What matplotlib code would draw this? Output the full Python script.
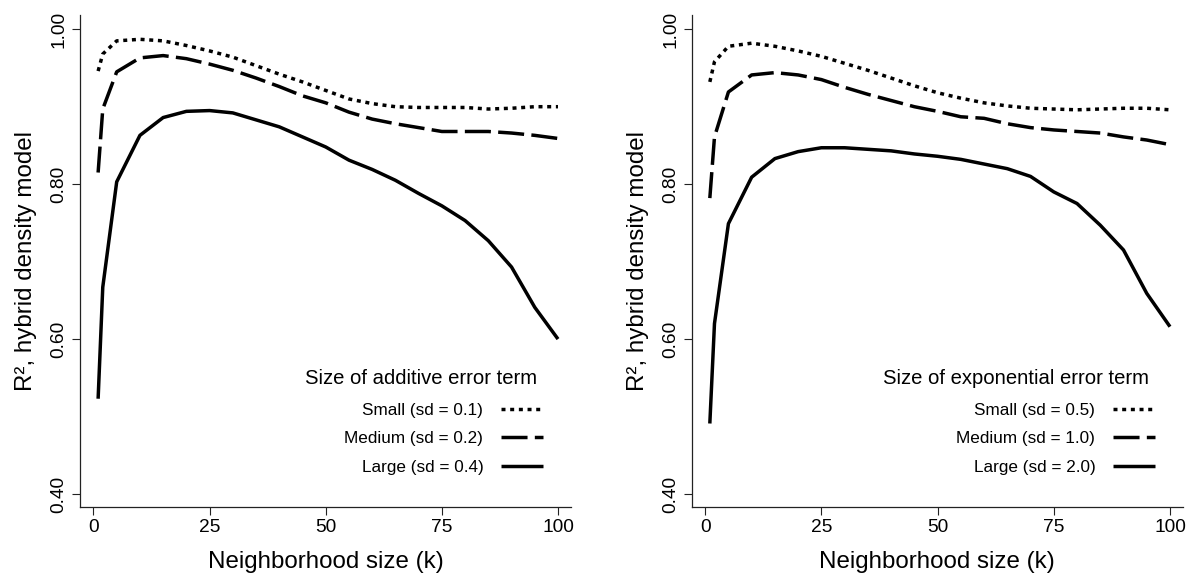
import matplotlib
matplotlib.use("Agg")
import matplotlib.pyplot as plt
from matplotlib.lines import Line2D

plt.rcParams['font.family'] = ['Liberation Sans', 'DejaVu Sans']

# ---- data ----
k = [1, 2, 5, 10, 15, 20, 25, 30, 35, 40, 45, 50, 55, 60, 65, 70, 75, 80, 85, 90, 95, 100]

add_small = [0.946, 0.968, 0.985, 0.987, 0.985, 0.979, 0.972, 0.964, 0.953, 0.942, 0.932,
             0.921, 0.910, 0.904, 0.900, 0.899, 0.899, 0.899, 0.897, 0.898, 0.900, 0.900]
add_medium = [0.815, 0.897, 0.945, 0.963, 0.966, 0.962, 0.955, 0.947, 0.937, 0.926, 0.914,
              0.905, 0.893, 0.884, 0.878, 0.873, 0.868, 0.868, 0.868, 0.866, 0.863, 0.859]
add_large = [0.523, 0.667, 0.803, 0.863, 0.886, 0.894, 0.895, 0.892, 0.883, 0.874, 0.861,
             0.848, 0.831, 0.819, 0.805, 0.788, 0.772, 0.753, 0.727, 0.693, 0.641, 0.600]

exp_small = [0.932, 0.958, 0.978, 0.982, 0.978, 0.972, 0.965, 0.956, 0.947, 0.937, 0.927,
             0.918, 0.911, 0.905, 0.901, 0.898, 0.897, 0.896, 0.897, 0.898, 0.898, 0.896]
exp_medium = [0.782, 0.861, 0.919, 0.941, 0.944, 0.941, 0.935, 0.925, 0.916, 0.908, 0.900,
              0.894, 0.887, 0.885, 0.878, 0.873, 0.870, 0.868, 0.866, 0.861, 0.857, 0.851]
exp_large = [0.491, 0.620, 0.749, 0.809, 0.833, 0.842, 0.847, 0.847, 0.845, 0.843, 0.839,
             0.836, 0.832, 0.826, 0.820, 0.810, 0.790, 0.775, 0.747, 0.715, 0.659, 0.616]

x_ticks = [0, 25, 50, 75, 100]
y_ticks = [0.40, 0.60, 0.80, 1.00]
y_ticklabels = ["0.40", "0.60", "0.80", "1.00"]

left_title = "Size of additive error term"
left_labels = ["Small (sd = 0.1)", "Medium (sd = 0.2)", "Large (sd = 0.4)"]
right_title = "Size of exponential error term"
right_labels = ["Small (sd = 0.5)", "Medium (sd = 1.0)", "Large (sd = 2.0)"]

xlabel = "Neighborhood size (k)"
ylabel = "R\u00b2, hybrid density model"

# ---- styles ----
LW = 2.5
styles = [
    dict(color='black', lw=LW, linestyle=(0, (1.15, 1.35)), dash_capstyle='butt'),
    dict(color='black', lw=LW, linestyle=(0, (7.5, 2.1)), dash_capstyle='butt'),
    dict(color='black', lw=LW, linestyle='-', solid_capstyle='butt'),
]

fig = plt.figure(figsize=(11.93, 5.75), dpi=100)
axL = fig.add_axes([0.06706, 0.11878, 0.41157, 0.85461])
axR = fig.add_axes([0.57980, 0.11878, 0.41182, 0.85461])


def draw(ax, series, labels, title, title_x):
    for ys, st in zip(series, styles):
        ax.plot(k, ys, solid_joinstyle='round', dash_joinstyle='round', **st)
    ax.set_xlim(-2.9, 102.8)
    ax.set_ylim(0.3836, 1.018)
    ax.set_xticks(x_ticks)
    ax.set_xticklabels([str(t) for t in x_ticks])
    ax.set_yticks(y_ticks)
    ax.set_yticklabels(y_ticklabels)
    for t in ax.get_yticklabels():
        t.set_rotation(90)
        t.set_verticalalignment('center')
    ax.tick_params(axis='both', length=5.8, width=0.8, labelsize=13.8, color='#222222')
    ax.tick_params(axis='x', pad=3.4)
    ax.tick_params(axis='y', pad=3.2)
    for s in ['top', 'right']:
        ax.spines[s].set_visible(False)
    for s in ['left', 'bottom']:
        ax.spines[s].set_linewidth(0.9)
        ax.spines[s].set_color('#222222')
    ax.set_xlabel(xlabel, fontsize=17.4)
    ax.set_ylabel(ylabel, fontsize=17.4)
    ax.xaxis.set_label_coords(0.5, -0.0895)
    ax.yaxis.set_label_coords(-0.0876, 0.5)

    handles = [Line2D([], [], **st) for st in styles]
    ax.legend(handles, labels, loc='upper right', bbox_to_anchor=(0.9436, 0.212),
              frameon=False, markerfirst=False, handlelength=2.49, handletextpad=1.02,
              labelspacing=0.80, borderpad=0, borderaxespad=0, fontsize=12.3)
    ax.text(title_x, 0.261, title, transform=ax.transAxes, ha='center', va='center',
            fontsize=14.6)


draw(axL, [add_small, add_medium, add_large], left_labels, left_title, 0.6945)
draw(axR, [exp_small, exp_medium, exp_large], right_labels, right_title, 0.661)

fig.savefig("out.png", dpi=100)
